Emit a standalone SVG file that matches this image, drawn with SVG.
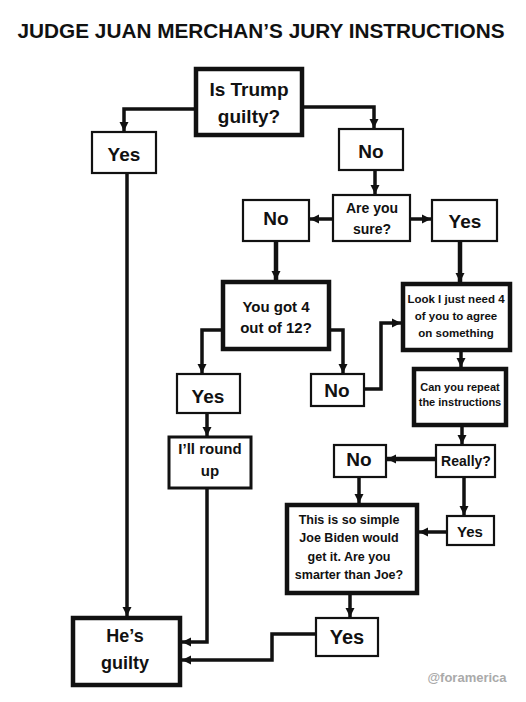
<svg xmlns="http://www.w3.org/2000/svg" width="526" height="702" viewBox="0 0 526 702">
<defs>
<style>
text{font-family:"Liberation Sans",Arial,sans-serif;font-weight:bold;fill:#111;text-anchor:middle}
.box{fill:#fff;stroke:#111}
.thin{stroke-width:2.2}
.mid{stroke-width:3}
.thick{stroke-width:4.5}
.c{fill:none;stroke:#111;stroke-width:3.5;marker-end:url(#ah)}
.c2{fill:none;stroke:#111;stroke-width:4.5;marker-end:url(#ah)}
</style>
<marker id="ah" markerUnits="userSpaceOnUse" markerWidth="10" markerHeight="10" refX="9" refY="5" orient="auto">
<path d="M0,0.5 L9,5 L0,9.5 z" fill="#111"/>
</marker>
</defs>
<rect width="526" height="702" fill="#fff"/>
<text x="261" y="38" font-size="20" textLength="487" lengthAdjust="spacingAndGlyphs">JUDGE JUAN MERCHAN’S JURY INSTRUCTIONS</text>

<g id="connectors">
<path class="c" d="M194,109 H124 V131"/>
<path class="c" d="M304,107 H374 V128"/>
<path class="c" d="M375,171 V194"/>
<path class="c" d="M332,219 H310"/>
<path class="c" d="M411,219 H431"/>
<path class="c" d="M127,174 V616"/>
<path class="c2" d="M276,242 V280"/>
<path class="c2" d="M460,242 V282"/>
<path class="c" d="M221,330 H202 V373"/>
<path class="c" d="M331,330 H343 V373"/>
<path class="c" d="M365,389 H381 V323 H401"/>
<path class="c" d="M461,352 V367"/>
<path class="c" d="M462,427 V444"/>
<path class="c2" d="M435,459 H387"/>
<path class="c" d="M359,478 V503"/>
<path class="c" d="M464,478 V515"/>
<path class="c" d="M446,532 H419"/>
<path class="c" d="M207,414 V436"/>
<path class="c" d="M207,489 V642 H182"/>
<path class="c" d="M350,595 V617"/>
<path class="c" d="M315,634 H272 V660 H182"/>
</g>

<g id="n-trump"><rect class="box thick" x="196" y="69" width="106" height="66"/>
<text x="249" y="96" font-size="19">Is Trump</text><text x="249" y="123" font-size="19">guilty?</text></g>

<g id="n-yes1"><rect class="box thin" x="92" y="132" width="64" height="41"/>
<text x="124" y="161" font-size="19">Yes</text></g>

<g id="n-no1"><rect class="box thin" x="339" y="129" width="64" height="41"/>
<text x="371" y="158" font-size="19">No</text></g>

<g id="n-sure"><rect class="box thin" x="333" y="195" width="77" height="46"/>
<text x="372" y="213" font-size="14">Are you</text><text x="372" y="234" font-size="14">sure?</text></g>

<g id="n-no2"><rect class="box thin" x="243" y="200" width="66" height="41"/>
<text x="276" y="225" font-size="19">No</text></g>

<g id="n-yes2"><rect class="box thin" x="432" y="200" width="65" height="41"/>
<text x="465" y="228" font-size="19">Yes</text></g>

<g id="n-got4"><rect class="box thick" x="223" y="282" width="106" height="67"/>
<text x="276" y="312" font-size="15">You got 4</text><text x="276" y="333" font-size="15">out of 12?</text></g>

<g id="n-look"><rect class="box thick" x="403" y="284" width="107" height="66"/>
<text x="456" y="303" font-size="11.5">Look I just need 4</text><text x="456" y="320" font-size="11.5">of you to agree</text><text x="456" y="337" font-size="11.5">on something</text></g>

<g id="n-yes3"><rect class="box thin" x="177" y="374" width="63" height="39"/>
<text x="208" y="403" font-size="19">Yes</text></g>

<g id="n-no3"><rect class="box thin" x="311" y="374" width="53" height="32"/>
<text x="337" y="397" font-size="19">No</text></g>

<g id="n-repeat"><rect class="box thick" x="414" y="369" width="92" height="56"/>
<text x="460" y="391" font-size="11">Can you repeat</text><text x="460" y="406" font-size="11">the instructions</text></g>

<g id="n-round"><rect class="box mid" x="169" y="437" width="82" height="51"/>
<text x="210" y="454" font-size="15">I’ll round</text><text x="210" y="476" font-size="15">up</text></g>

<g id="n-really"><rect class="box thin" x="436" y="445" width="59" height="32"/>
<text x="466" y="466" font-size="14">Really?</text></g>

<g id="n-no4"><rect class="box thin" x="334" y="445" width="52" height="32"/>
<text x="359" y="466" font-size="19">No</text></g>

<g id="n-yes4"><rect class="box thin" x="447" y="516" width="47" height="29"/>
<text x="470" y="537" font-size="15">Yes</text></g>

<g id="n-simple"><rect class="box thick" x="287" y="505" width="130" height="88"/>
<text x="349" y="524" font-size="12.5">This is so simple</text><text x="349" y="542" font-size="12.5">Joe Biden would</text><text x="349" y="561" font-size="12.5">get it. Are you</text><text x="349" y="579" font-size="12.5">smarter than Joe?</text></g>

<g id="n-yes5"><rect class="box thin" x="316" y="618" width="62" height="38"/>
<text x="347" y="644" font-size="20">Yes</text></g>

<g id="n-guilty"><rect class="box thick" x="73" y="618" width="107" height="67"/>
<text x="125" y="642" font-size="18">He’s</text><text x="125" y="669" font-size="18">guilty</text></g>

<text x="467" y="682" font-size="13" style="fill:#aaa;font-weight:600">@foramerica</text>
</svg>
